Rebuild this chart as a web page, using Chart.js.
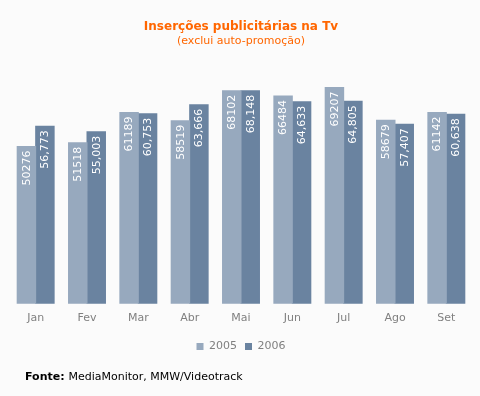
<!DOCTYPE html>
<html lang="pt">
<head>
    <meta charset="UTF-8">
    <title>Inserções publicitárias na Tv</title>
    <script src="https://cdn.jsdelivr.net/npm/chart.js"></script>
    <style>
        html, body {
            margin: 0;
            padding: 0;
            background-color: #fbfbfb;
        }
        #wrap {
            width: 480px;
            height: 396px;
            position: relative;
        }
    </style>
</head>
<body>
<div id="wrap"><canvas id="grafico"></canvas></div>
<script>
    // dados
    const meses = ['Jan', 'Fev', 'Mar', 'Abr', 'Mai', 'Jun', 'Jul', 'Ago', 'Set'];
    const valores2005 = [50276, 51518, 61189, 58519, 68102, 66484, 69207, 58679, 61142];
    const valores2006 = [56773, 55003, 60753, 63666, 68148, 64633, 64805, 57407, 60638];

    const fonte = 'DejaVu Sans, Verdana, sans-serif';

    // rótulos brancos verticais dentro das barras
    const rotulosBarras = {
        id: 'rotulosBarras',
        afterDatasetsDraw(chart) {
            const ctx = chart.ctx;
            ctx.save();
            ctx.fillStyle = '#ffffff';
            ctx.font = '11px ' + fonte;
            ctx.textAlign = 'right';
            ctx.textBaseline = 'middle';
            chart.data.datasets.forEach((ds, i) => {
                chart.getDatasetMeta(i).data.forEach((bar, j) => {
                    const v = ds.data[j];
                    const txt = i === 0 ? String(v) : v.toLocaleString('en-US');
                    ctx.save();
                    ctx.translate(bar.x + 0.5, bar.y + 4);
                    ctx.rotate(-Math.PI / 2);
                    ctx.fillText(txt, 0, 0);
                    ctx.restore();
                });
            });
            ctx.restore();
        }
    };

    // linha da fonte em baixo
    const rodape = {
        id: 'rodape',
        afterDraw(chart) {
            const ctx = chart.ctx;
            ctx.save();
            ctx.fillStyle = '#000000';
            ctx.textBaseline = 'middle';
            ctx.textAlign = 'left';
            ctx.font = 'bold 11px ' + fonte;
            ctx.fillText('Fonte:', 25, 377);
            const w = ctx.measureText('Fonte: ').width;
            ctx.font = '11px ' + fonte;
            ctx.fillText('MediaMonitor, MMW/Videotrack', 25 + w, 377);
            ctx.restore();
        }
    };

    const ctx = document.getElementById('grafico').getContext('2d');
    const grafico = new Chart(ctx, {
        type: 'bar',
        data: {
            labels: meses,
            datasets: [
                {
                    label: '2005',
                    data: valores2005,
                    backgroundColor: '#97a9be',
                    borderWidth: 0,
                    inflateAmount: 0.5
                },
                {
                    label: '2006',
                    data: valores2006,
                    backgroundColor: '#6a83a0',
                    borderWidth: 0,
                    inflateAmount: 0.5
                }
            ]
        },
        options: {
            responsive: true,
            maintainAspectRatio: false,
            animation: false,
            datasets: {
                bar: {
                    categoryPercentage: 0.72,
                    barPercentage: 1.0
                }
            },
            layout: {
                padding: { left: 10, right: 8, top: 0, bottom: 34 }
            },
            plugins: {
                title: {
                    display: true,
                    text: 'Inserções publicitárias na Tv',
                    color: '#ff6600',
                    font: { family: fonte, size: 12, weight: 'bold' },
                    padding: { top: 20, bottom: 0 }
                },
                subtitle: {
                    display: true,
                    text: '(exclui auto-promoção)',
                    color: '#ff6600',
                    font: { family: fonte, size: 11 },
                    padding: { top: 0, bottom: 17 }
                },
                legend: {
                    display: true,
                    position: 'bottom',
                    labels: {
                        boxWidth: 7,
                        boxHeight: 7,
                        padding: 8,
                        color: '#808080',
                        font: { family: fonte, size: 11 }
                    }
                },
                tooltip: { enabled: false }
            },
            scales: {
                x: {
                    grid: { display: false, drawTicks: false },
                    border: { display: false },
                    ticks: {
                        color: '#808080',
                        padding: 8,
                        font: { family: fonte, size: 11 }
                    }
                },
                y: {
                    display: false,
                    min: 0,
                    max: 76500
                }
            }
        },
        plugins: [rotulosBarras, rodape]
    });
</script>
</body>
</html>
